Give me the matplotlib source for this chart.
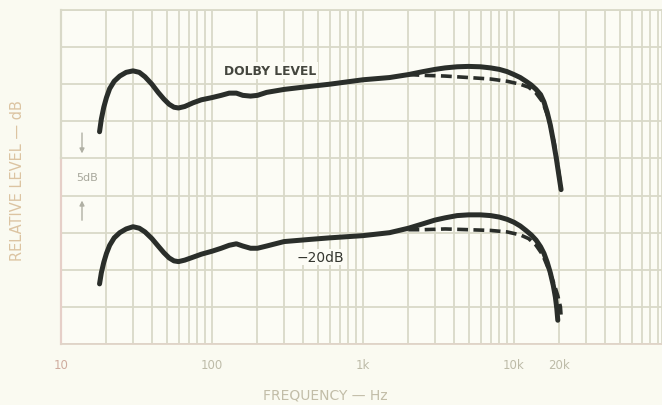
import matplotlib
matplotlib.use("Agg")
import matplotlib.pyplot as plt
import numpy as np

# ---- data ----
upper_f = [18, 18.5, 19.2, 20, 21, 22.5, 24.5, 27, 30, 33, 36, 40, 44, 48, 52, 56, 60, 66, 75,
           85, 100, 115, 130, 145, 160, 180, 200, 230, 300, 400, 600, 1000, 1500, 2000, 2500,
           3000, 3500, 4200, 5000, 6000, 7000, 8000, 9000, 10000, 11000, 12000, 13000, 14000,
           15000, 15800, 16600, 17400, 18200, 19000, 19800, 20500]
upper_db = [28.6, 30.3, 31.9, 33.2, 34.4, 35.4, 36.1, 36.6, 36.8, 36.6, 36.0, 35.0, 33.9, 33.0,
            32.3, 31.9, 31.8, 32.0, 32.5, 32.9, 33.2, 33.5, 33.8, 33.8, 33.5, 33.4, 33.5, 33.9,
            34.3, 34.6, 35.0, 35.6, 35.9, 36.3, 36.7, 37.0, 37.2, 37.35, 37.4, 37.35, 37.2, 37.0,
            36.7, 36.3, 35.9, 35.4, 34.9, 34.3, 33.6, 32.6, 31.2, 29.5, 27.4, 25.2, 22.8, 20.8]

upper_dash_f = [2000, 2500, 3500, 5000, 7000, 9000, 11000, 12500, 14000, 15500, 17000, 18500,
                19500, 20500]
upper_dash_db = [36.3, 36.2, 36.1, 35.9, 35.7, 35.4, 35.0, 34.6, 33.8, 32.6, 30.3, 27.0,
                 24.0, 21.0]

lower_f = [18, 18.5, 19.2, 20, 21, 22.5, 24.5, 27, 30, 33, 36, 40, 44, 48, 52, 56, 60, 66, 75,
           85, 100, 115, 130, 145, 160, 180, 200, 230, 300, 450, 600, 1000, 1500, 2000, 2500,
           3000, 3500, 4200, 5000, 6000, 7000, 8000, 9000, 10000, 11000, 12000, 13000, 14000,
           15000, 15800, 16600, 17400, 18200, 18800, 19200, 19500]
lower_db = [8.1, 9.6, 11.0, 12.2, 13.3, 14.3, 15.0, 15.5, 15.8, 15.6, 15.1, 14.2, 13.2, 12.3,
            11.6, 11.2, 11.1, 11.3, 11.7, 12.1, 12.5, 12.9, 13.3, 13.5, 13.2, 12.9, 12.9, 13.2,
            13.8, 14.1, 14.3, 14.6, 15.0, 15.6, 16.2, 16.7, 17.0, 17.3, 17.4, 17.4, 17.3, 17.1,
            16.8, 16.4, 15.9, 15.3, 14.7, 14.0, 13.1, 12.2, 11.0, 9.6, 7.9, 6.3, 4.8, 3.2]

lower_dash_f = [2000, 2500, 3500, 5000, 7000, 9000, 11000, 12500, 14000, 15500, 17000, 18500,
                19500, 20300, 20500]
lower_dash_db = [15.4, 15.4, 15.5, 15.4, 15.3, 15.1, 14.7, 14.2, 13.3, 12.0, 10.0, 8.0, 6.5,
                 5.0, 3.8]

tick_freqs = [10, 100, 1000, 10000, 20000]
tick_labels = ["10", "100", "1k", "10k", "20k"]

# ---- figure ----
W, H = 662, 406
fig = plt.figure(figsize=(W / 100, H / 100), dpi=100, facecolor="#fafaf1")
x0, x1 = 61, 662
y0, y1 = 11, 345
ax = fig.add_axes([x0 / W, 1 - y1 / H, (x1 - x0) / W, (y1 - y0) / H])
ax.set_facecolor("#fcfcf5")
ax.set_xscale("log")
ax.set_xlim(10, 10 ** (1 + (x1 - x0) / 151.0))
ax.set_ylim(0, 45)

gridc = "#d9d9c8"
for dec in [10, 100, 1000, 10000]:
    for m in range(1, 10):
        f = dec * m
        ax.axvline(f, color=gridc, lw=1.3, zorder=1)
for yv in np.arange(0, 46, 5):
    ax.axhline(yv, color=gridc, lw=1.3, zorder=1)
for s in ax.spines.values():
    s.set_color(gridc)
    s.set_linewidth(1.3)
ax.spines["bottom"].set_color("#e0d4c8")
ax.spines["left"].set_visible(False)
ax.plot([10, 10], [0, 25], color="#e6cfc8", lw=1.6, zorder=2, clip_on=False)
ax.plot([10, 10], [25, 45], color=gridc, lw=1.6, zorder=2, clip_on=False)

ax.set_xticks([])
ax.set_yticks([])
ax.minorticks_off()

curve_c = "#2a2e2a"
ax.plot(upper_f, upper_db, color=curve_c, lw=3.6, solid_capstyle="round",
        solid_joinstyle="round", zorder=3)
ax.plot(lower_f, lower_db, color=curve_c, lw=3.6, solid_capstyle="round",
        solid_joinstyle="round", zorder=3)
ax.plot(upper_dash_f, upper_dash_db, color=curve_c, lw=2.6, ls=(0, (3, 1.5)), zorder=3)
ax.plot(lower_dash_f, lower_dash_db, color=curve_c, lw=2.6, ls=(0, (3, 1.5)), zorder=3)

# annotations
ax.text(10 ** (1 + (270 - 61) / 151.0), (345 - 72) / 7.42, "DOLBY LEVEL",
        ha="center", va="center", fontsize=8.8, fontweight="bold", color="#44463e", zorder=4,
        bbox=dict(facecolor="#fcfcf5", edgecolor="none", pad=1.5))
ax.text(10 ** (1 + (320 - 61) / 151.0), (345 - 258) / 7.42, "\u221220dB",
        ha="center", va="center", fontsize=10, color="#34362f", zorder=4,
        bbox=dict(facecolor="#fcfcf5", edgecolor="none", pad=1.0))

# 5dB marker
fx = 10 ** (1 + (82 - 61) / 151.0)
ax.text(fx + 1.2, 22.5, "5dB", ha="center", va="center", fontsize=8, color="#a8a89c",
        zorder=4, bbox=dict(facecolor="#fcfcf5", edgecolor="none", pad=1.0))
ax.annotate("", xy=(fx, 25.3), xytext=(fx, 28.8),
            arrowprops=dict(arrowstyle="-|>", color="#b0b0a4", lw=1.0, mutation_scale=7), zorder=4)
ax.annotate("", xy=(fx, 19.7), xytext=(fx, 16.3),
            arrowprops=dict(arrowstyle="-|>", color="#b0b0a4", lw=1.0, mutation_scale=7), zorder=4)

# tick labels
for f, lab in zip(tick_freqs, tick_labels):
    ax.text(f, -2.7, lab, ha="center", va="center", fontsize=8.5,
            color="#cfac9e" if lab == "10" else "#bdbba8", clip_on=False)

fig.text(325 / W, 1 - 396 / H, "FREQUENCY \u2014 Hz", ha="center", va="center",
         fontsize=10, color="#c2bda8")
fig.text(18 / W, 1 - 181 / H, "RELATIVE LEVEL \u2014 dB", ha="center", va="center",
         rotation=90, fontsize=10.5, color="#dcc4a2")

fig.savefig("out.png", dpi=100, facecolor=fig.get_facecolor())
